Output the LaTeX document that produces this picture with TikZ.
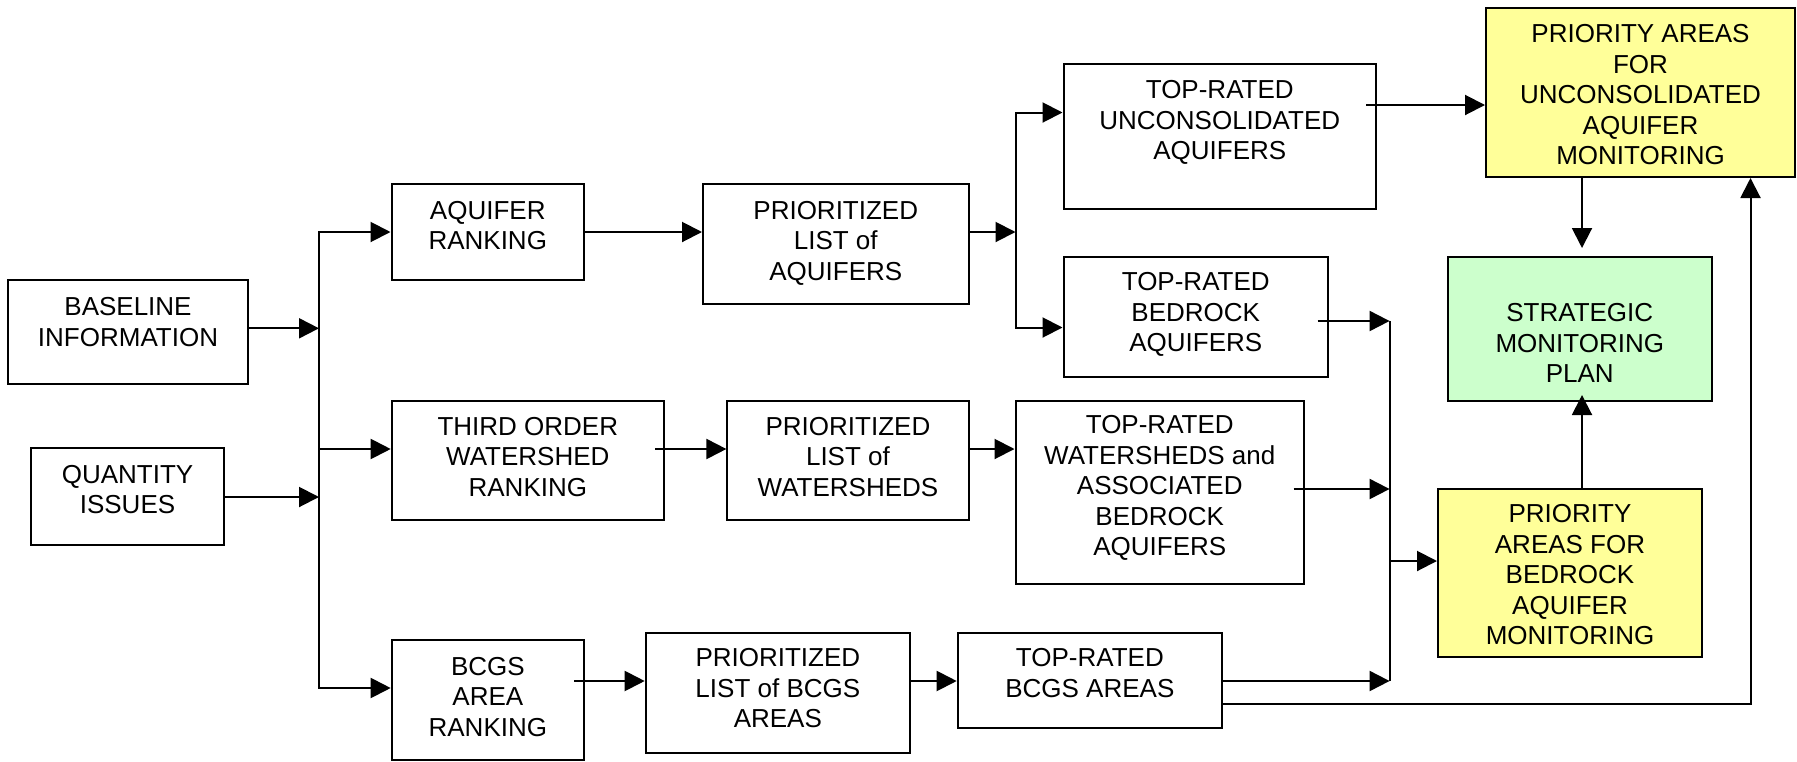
\documentclass[tikz,border=0pt]{standalone}
\usepackage{fontspec}
\setmainfont{Liberation Sans}
\usetikzlibrary{arrows.meta}
\definecolor{boxyellow}{HTML}{FFFF99}
\definecolor{boxgreen}{HTML}{CCFFCC}
\newcommand{\fl}{\rule{0pt}{21pt}}
\begin{document}
\begin{tikzpicture}[x=1pt,y=-1pt,
  box/.style={draw=black, line width=2pt, rectangle, inner sep=0pt, fill=white},
  ybox/.style={box, fill=boxyellow},
  gbox/.style={box, fill=boxgreen},
  txt/.style={anchor=north, inner sep=0pt, align=center, font=\fontsize{26pt}{30.5pt}\selectfont},
  ln/.style={line width=2pt},
  arr/.style={line width=2pt, -{Triangle[length=20pt,width=20pt]}}]
\useasboundingbox (0,0) rectangle (1797,761);

% boxes
\node[box, minimum width=240pt, minimum height=104pt] (bl) at (128,332) {};
\node[box, minimum width=193pt, minimum height=97pt] (qi) at (127.5,496.5) {};
\node[box, minimum width=192.5pt, minimum height=96pt] (ar) at (487.75,232) {};
\node[box, minimum width=272.3pt, minimum height=119pt] (tw) at (527.85,460.5) {};
\node[box, minimum width=192.3pt, minimum height=120pt] (br) at (487.85,700) {};
\node[box, minimum width=265.5pt, minimum height=120pt] (pa) at (835.75,244) {};
\node[box, minimum width=241.1pt, minimum height=119pt] (pw) at (847.95,460.5) {};
\node[box, minimum width=264.3pt, minimum height=120pt] (pb) at (777.85,692.7) {};
\node[box, minimum width=312.5pt, minimum height=144.5pt] (tu) at (1219.75,136.25) {};
\node[box, minimum width=264.5pt, minimum height=120pt] (tb) at (1195.75,317) {};
\node[box, minimum width=288.5pt, minimum height=183pt] (tws) at (1159.75,492.5) {};
\node[box, minimum width=264.3pt, minimum height=95.6pt] (tbc) at (1089.85,680.5) {};
\node[ybox, minimum width=309pt, minimum height=169pt] (pu) at (1640.5,92.5) {};
\node[gbox, minimum width=264.5pt, minimum height=143.5pt] (sm) at (1579.75,328.75) {};
\node[ybox, minimum width=264pt, minimum height=167.5pt] (pbd) at (1570,572.75) {};

% texts
\node[txt] (blt) at (128,294.7) {\fl BASELINE\\INFORMATION};
\node[txt] (qit) at (127.5,462) {\fl QUANTITY\\ISSUES};
\node[txt] (art) at (487.75,198) {\fl AQUIFER\\RANKING};
\node[txt] (twt) at (527.85,414) {\fl THIRD ORDER\\WATERSHED\\RANKING};
\node[txt] (brt) at (487.85,654) {\fl BCGS\\AREA\\RANKING};
\node[txt] (pat) at (835.75,198) {\fl PRIORITIZED\\LIST of\\AQUIFERS};
\node[txt] (pwt) at (847.95,414) {\fl PRIORITIZED\\LIST of\\WATERSHEDS};
\node[txt] (pbt) at (777.85,645.7) {\fl PRIORITIZED\\LIST of BCGS\\AREAS};
\node[txt] (tut) at (1219.75,77.5) {\fl TOP-RATED\\UNCONSOLIDATED\\AQUIFERS};
\node[txt] (tbt) at (1195.75,269.7) {\fl TOP-RATED\\BEDROCK\\AQUIFERS};
\node[txt] (twst) at (1159.75,412.5) {\fl TOP-RATED\\WATERSHEDS and\\ASSOCIATED\\BEDROCK\\AQUIFERS};
\node[txt] (tbct) at (1089.85,645.7) {\fl TOP-RATED\\BCGS AREAS};
\node[txt] (put) at (1640.5,21.7) {\fl PRIORITY AREAS\\FOR\\UNCONSOLIDATED\\AQUIFER\\MONITORING};
\node[txt] (smt) at (1579.75,300.7) {\fl STRATEGIC\\MONITORING\\PLAN};
\node[txt] (pbdt) at (1570,501.5) {\fl PRIORITY\\AREAS FOR\\BEDROCK\\AQUIFER\\MONITORING};

% junction points
\coordinate (j1) at (319,328.3);
\coordinate (j2) at (319,497);
\coordinate (bt) at (319,232);
\coordinate (bm) at (319,449);
\coordinate (bb) at (319,688);
\coordinate (k1) at (1015.5,232);
\coordinate (kt) at (1015.5,112.5);
\coordinate (kb) at (1015.5,327.5);
\coordinate (s1) at (655,449);
\coordinate (s2) at (574,681);
\coordinate (s3) at (1366,105);
\coordinate (s4) at (1317.5,321);
\coordinate (s5) at (1293.5,489);
\coordinate (mt) at (1389.6,321);
\coordinate (mm) at (1389.6,489);
\coordinate (mo) at (1389.6,561);
\coordinate (mb) at (1389.6,681);
\coordinate (v1) at (1582,248);
\coordinate (v3) at (1582,395);
\coordinate (w2) at (1750.5,704);

% connectors
\draw[arr] (bl.east |- j1) -- (j1);
\draw[arr] (qi.east |- j2) -- (j2);
\draw[arr] (bb) -- (bt) -- (ar.west |- bt);
\draw[arr] (bt) -- (bb) -- (br.west |- bb);
\draw[arr] (bm) -- (tw.west |- bm);
\draw[arr] (ar.east) -- (pa.west |- ar.east);
\draw[arr] (pa.east |- k1) -- (k1);
\draw[arr] (kb) -- (kt) -- (tu.west |- kt);
\draw[arr] (kt) -- (kb) -- (tb.west |- kb);
\draw[arr] (s1) -- (s1 -| pw.west);
\draw[arr] (pw.east |- s1) -- (tws.west |- s1);
\draw[arr] (s2) -- (s2 -| pb.west);
\draw[arr] (pb.east |- s2) -- (tbc.west |- s2);
\draw[arr] (s3) -- (s3 -| pu.west);
\draw[arr] (s4) -- (mt);
\draw[arr] (s5) -- (mm);
\draw[arr] (tbc.east |- mb) -- (mb);
\draw[ln] (mt) -- (mb);
\draw[arr] (mo) -- (mo -| pbd.west);
\draw[arr] (v1 |- pu.south) -- (v1);
\draw[arr] (v3 |- pbd.north) -- (v3);
\draw[arr] (tbc.east |- w2) -- (w2) -- (w2 |- pu.south);
\end{tikzpicture}
\end{document}
